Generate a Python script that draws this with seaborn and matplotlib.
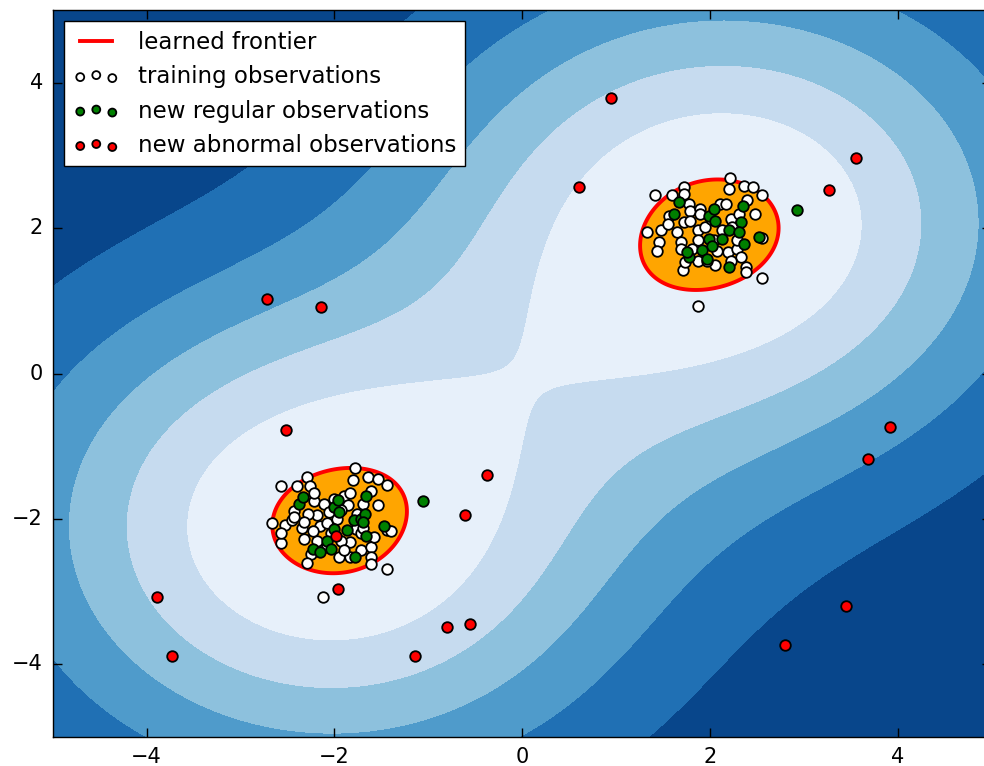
import numpy as np
import matplotlib
matplotlib.use("Agg")
import matplotlib.pyplot as plt
import matplotlib.lines as mlines
import seaborn as sns

# training observations
train_x = [-2.57, -2.40, -2.29, -2.26, -1.78, -1.80, -1.64, -1.54, -1.44, -2.66,
           -2.57, -2.53, -2.43, -2.45, -2.34, -2.32, -2.22, -2.11, -2.22, -2.19,
           -2.28, -2.15, -2.08, -1.97, -1.90, -1.83, -1.86, -1.76, -1.69, -1.61,
           -1.53, -1.93, -2.04, -1.83, -1.72, -1.61, -1.58, -1.44, -1.40, -2.15,
           -2.25, -2.29, -1.95, -1.83, -1.61, -1.61, -1.44, -2.57, -2.43, -2.06,
           -2.18, -1.93, -1.77, -1.72, -2.00, -2.32, -2.23, -2.08, -1.90, -1.69,
           -2.12,
           1.42, 1.60, 1.72, 1.72, 2.21, 2.20, 2.36, 2.46, 2.56, 1.33,
           1.48, 1.46, 1.44, 1.57, 1.55, 1.65, 1.69, 1.69, 1.72, 1.78,
           1.79, 1.90, 1.90, 1.79, 1.87, 1.95, 2.01, 2.11, 2.17, 2.22,
           2.31, 2.40, 2.48, 2.24, 2.13, 2.04, 1.87, 2.19, 2.29, 2.33,
           2.38, 2.38, 2.56, 1.71, 1.74, 1.87, 2.06, 2.22, 2.56, 2.08,
           1.97, 2.29, 1.81, 1.87]
train_y = [-1.55, -1.55, -1.43, -1.55, -1.30, -1.46, -1.43, -1.45, -1.54, -2.06,
           -2.33, -2.09, -1.89, -2.02, -2.13, -2.27, -1.75, -1.79, -1.65, -1.95,
           -1.93, -2.10, -2.06, -2.00, -1.68, -1.65, -1.81, -1.93, -1.79, -1.61,
           -1.81, -1.88, -2.20, -2.32, -2.43, -2.39, -2.25, -2.15, -2.16, -2.43,
           -2.48, -2.61, -2.53, -2.53, -2.53, -2.62, -2.69, -2.20, -1.98, -1.91,
           -2.30, -2.30, -2.14, -2.20, -1.72, -2.04, -2.16, -2.39, -2.43, -2.12,
           -3.07,
           2.45, 2.45, 2.57, 2.47, 2.69, 2.54, 2.58, 2.57, 2.46, 1.94,
           1.97, 1.81, 1.68, 2.17, 2.06, 1.94, 1.81, 1.71, 2.08, 2.33,
           2.24, 2.26, 2.20, 2.10, 1.97, 2.01, 2.13, 2.33, 2.33, 2.13,
           2.20, 2.38, 2.19, 2.01, 1.97, 1.83, 1.83, 1.67, 1.71, 1.60,
           1.46, 1.39, 1.32, 1.42, 1.53, 1.55, 1.49, 1.55, 1.87, 1.69,
           1.55, 1.83, 1.71, 0.93]

# new regular observations
reg_x = [-2.38, -2.33, -2.00, -1.96, -2.00, -1.87, -1.79, -1.72, -1.67, -1.66,
         -1.69, -1.66, -1.47, -2.08, -2.23, -2.04, -1.78, -1.95, -2.15, -1.06,
         1.62, 1.67, 1.99, 2.04, 2.06, 2.20, 2.35, 2.33, 2.31, 2.52,
         2.36, 2.13, 1.99, 2.02, 1.92, 1.78, 1.97, 2.20, 1.76, 2.93]
reg_y = [-1.79, -1.70, -1.83, -1.74, -2.14, -2.15, -2.02, -2.00, -1.93, -1.69,
         -2.04, -2.23, -2.10, -2.30, -2.41, -2.41, -2.52, -1.91, -2.46, -1.75,
         2.20, 2.36, 2.17, 2.26, 2.10, 1.98, 2.31, 2.08, 1.94, 1.88,
         1.78, 1.85, 1.85, 1.75, 1.70, 1.60, 1.58, 1.47, 1.67, 2.25]

# new abnormal observations
abn_x = [-2.72, -2.14, 0.95, 0.61, 3.56, 3.27, -2.51, -0.37, -0.61, 3.92,
         3.68, -1.96, -3.89, -3.73, -1.14, -0.80, -0.56, 3.45, 2.80, -1.98]
abn_y = [1.03, 0.92, 3.79, 2.57, 2.96, 2.53, -0.78, -1.39, -1.94, -0.73,
         -1.17, -2.96, -3.08, -3.88, -3.88, -3.49, -3.45, -3.20, -3.73, -2.23]

# one-class svm settings
nu = 0.1
gamma = 0.1

plt.style.use("classic")
plt.rcParams["font.family"] = ["DejaVu Sans"]
plt.rcParams["font.size"] = 15

tx = np.asarray(train_x)
ty = np.asarray(train_y)


def kernel(px, py):
    d2 = (px.ravel()[None, :] - tx[:, None]) ** 2 + (py.ravel()[None, :] - ty[:, None]) ** 2
    return np.exp(-gamma * d2)


# small one-class SVM: min 0.5 a'Ka, 0 <= a <= C, sum(a) = 1
n = len(tx)
C = 1.0 / (nu * n)
K = kernel(tx, ty)
L = np.linalg.eigvalsh(K)[-1]


def project(v):
    lo, hi = v.min() - 1.0, v.max()
    for _ in range(60):
        tau = 0.5 * (lo + hi)
        if np.clip(v - tau, 0, C).sum() > 1:
            lo = tau
        else:
            hi = tau
    return np.clip(v - 0.5 * (lo + hi), 0, C)


a = np.full(n, 1.0 / n)
yk = a.copy()
t = 1.0
for _ in range(4000):
    a_new = project(yk - K @ yk / L)
    t_new = 0.5 * (1 + np.sqrt(1 + 4 * t * t))
    yk = a_new + (t - 1) / t_new * (a_new - a)
    a, t = a_new, t_new

g = K @ a
free = (a > 1e-3 * C) & (a < (1 - 1e-3) * C)
rho = g[free].mean() if free.any() else np.quantile(g, nu)

xx, yy = np.meshgrid(np.linspace(-5, 5, 500), np.linspace(-5, 5, 500))
Z = (a @ kernel(xx, yy)).reshape(xx.shape) - rho

fig = plt.figure(figsize=(9.84, 7.66), dpi=100, facecolor="white")
ax = fig.add_axes([0.0536, 0.0379, 0.954, 0.949])

ax.contourf(xx, yy, Z, levels=np.linspace(Z.min(), 0, 7), cmap="Blues_r")
ax.contourf(xx, yy, Z, levels=[0, Z.max()], colors="orange")
ax.contour(xx, yy, Z, levels=[0], colors="red", linewidths=2.8)

sns.scatterplot(x=train_x, y=train_y, color="white", edgecolor="black", s=58,
                linewidth=1.3, label="training observations", ax=ax, zorder=3)
sns.scatterplot(x=reg_x, y=reg_y, color="green", edgecolor="black", s=58,
                linewidth=1.3, label="new regular observations", ax=ax, zorder=3)
sns.scatterplot(x=abn_x, y=abn_y, color="red", edgecolor="black", s=58,
                linewidth=1.3, label="new abnormal observations", ax=ax, zorder=3)

ax.set_xlim(-5, 5)
ax.set_ylim(-5, 5)
ax.set_xticks([-4, -2, 0, 2, 4])
ax.set_yticks([-4, -2, 0, 2, 4])
ax.tick_params(direction="in", length=6.5, width=1, pad=7, labelsize=15,
               top=True, right=True)

frontier = mlines.Line2D([], [], color="red", linewidth=2.8)
handles, labels = ax.get_legend_handles_labels()
leg = ax.legend([frontier] + handles, ["learned frontier"] + labels,
                loc="upper left", fontsize=16.5, scatterpoints=3,
                markerscale=0.75, frameon=True, fancybox=False)
leg.get_frame().set_edgecolor("black")
leg.get_frame().set_facecolor("white")

fig.savefig("out.png", dpi=100, facecolor="white")
